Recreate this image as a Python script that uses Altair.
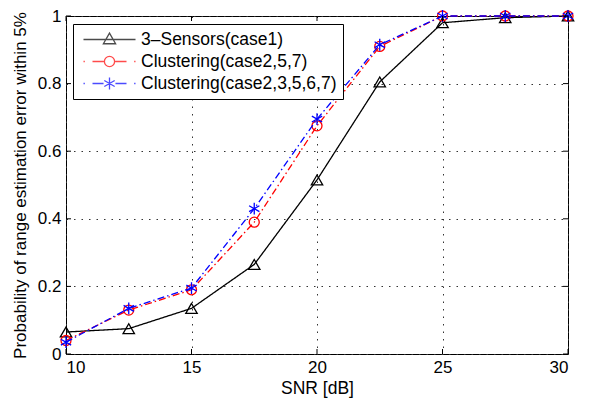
import altair as alt
import pandas as pd

# ---- data ----
snr = [10, 12.5, 15, 17.5, 20, 22.5, 25, 27.5, 30]
case1 = [0.065, 0.075, 0.135, 0.265, 0.515, 0.805, 0.98, 0.995, 1.0]
case257 = [0.04, 0.13, 0.19, 0.39, 0.675, 0.91, 1.0, 1.0, 1.0]
case23567 = [0.035, 0.135, 0.195, 0.43, 0.695, 0.915, 1.0, 1.0, 1.0]
series_names = ["3\u2013Sensors(case1)", "Clustering(case2,5,7)", "Clustering(case2,3,5,6,7)"]
x_ticks = [10, 15, 20, 25, 30]
y_ticks = [0, 0.2, 0.4, 0.6, 0.8, 1.0]

colors = ["#000000", "#ff0000", "#0000ff"]
dashes = [[1, 0], [7, 3, 1.5, 3], [7, 3, 1.5, 3]]

W, H = 502, 338
FONT = "Liberation Sans"
SW = 1.3

rows = []
for name, vals in zip(series_names, [case1, case257, case23567]):
    for s, v in zip(snr, vals):
        rows.append({"snr": s, "p": v, "series": name})
df = pd.DataFrame(rows)

xs = alt.Scale(domain=[10, 30], nice=False, zero=False)
ys = alt.Scale(domain=[0, 1], nice=False, zero=False)
cs = alt.Scale(domain=series_names, range=colors)

x_axis = alt.Axis(values=x_ticks, labelFontSize=17, titleFontSize=17.5,
                  labelPadding=5, titlePadding=4, ticks=False, domain=False,
                  grid=True, gridColor="#333333", gridDash=[1.5, 6],
                  gridWidth=1, labelFont=FONT, titleFont=FONT,
                  titleFontWeight="normal", labelColor="black", titleColor="black")
y_axis = alt.Axis(values=y_ticks, labelFontSize=17, titleFontSize=17,
                  labelPadding=5, titlePadding=8, ticks=False, domain=False,
                  grid=True, gridColor="#333333", gridDash=[1.5, 6],
                  gridWidth=1, labelFont=FONT, titleFont=FONT,
                  labelExpr="datum.value == 0 ? '0' : datum.value == 1 ? '1' : format(datum.value, '.1f')",
                  titleFontWeight="normal", labelColor="black", titleColor="black")
X_TITLE = "SNR [dB]"
Y_TITLE = "Probability of range estimation error within 5%"

# marker shapes
tri = "triangle-up"
circ = "circle"
star = "M0,-1L0,1M-0.87,-0.5L0.87,0.5M-0.87,0.5L0.87,-0.5"
marker_shapes = [tri, circ, star]
marker_sizes = [130, 100, 140]

# legend symbols: line + marker (units of 8.5 px)
leg_black = "M-3.06,0L3.06,0M0,-0.75L0.72,0.5L-0.72,0.5Z"
leg_red = ("M-3.06,0L-2.9,0M-2.0,0L-0.62,0M0.62,0L2.0,0M2.9,0L3.06,0"
           "M0.6,0A0.6,0.6 0 1,1 -0.6,0A0.6,0.6 0 1,1 0.6,0")
leg_blue = ("M-3.06,0L-2.9,0M-2.0,0L-0.7,0M0.7,0L2.0,0M2.9,0L3.06,0"
            "M0,-0.7L0,0.7M-0.61,-0.35L0.61,0.35M-0.61,0.35L0.61,-0.35")

base = alt.Chart(df)

layers = []
for i, name in enumerate(series_names):
    sub = base.transform_filter(alt.datum.series == name)
    line = sub.mark_line(strokeWidth=SW, strokeDash=dashes[i]).encode(
        x=alt.X("snr:Q", scale=xs, title=X_TITLE, axis=x_axis),
        y=alt.Y("p:Q", scale=ys, title=Y_TITLE, axis=y_axis),
        color=alt.Color("series:N", scale=cs, legend=None),
    )
    pts = sub.mark_point(filled=False, strokeWidth=SW, size=marker_sizes[i],
                         shape=marker_shapes[i], opacity=1).encode(
        x=alt.X("snr:Q", scale=xs, title=X_TITLE, axis=x_axis),
        y=alt.Y("p:Q", scale=ys, title=Y_TITLE, axis=y_axis),
        color=alt.Color("series:N", scale=cs, legend=None),
    )
    layers += [line, pts]

# legend-only layer (points placed out of the y-domain and clipped)
leg_df = pd.DataFrame({"series": series_names, "snr": [10, 10, 10], "p": [-1, -1, -1]})
legend_props = dict(
    title=None, orient="none", legendX=7, legendY=8,
    labelFontSize=17.5, labelFont=FONT, labelColor="black",
    labelOffset=22, symbolOffset=21, labelLimit=400,
    symbolSize=289, symbolStrokeWidth=SW,
    strokeColor="black", fillColor="white", padding=6, rowPadding=4,
)
legend_layer = alt.Chart(leg_df).mark_point(filled=False, clip=True, strokeWidth=SW, size=289).encode(
    x=alt.X("snr:Q", scale=xs, title=X_TITLE, axis=x_axis),
    y=alt.Y("p:Q", scale=ys, title=Y_TITLE, axis=y_axis),
    color=alt.Color("series:N", scale=cs, legend=alt.Legend(**legend_props)),
    shape=alt.Shape("series:N", scale=alt.Scale(domain=series_names,
                                                 range=[leg_black, leg_red, leg_blue]),
                    legend=alt.Legend(**legend_props)),
)

# inward tick marks (matlab style)
tx = pd.DataFrame({"snr": x_ticks})
ty = pd.DataFrame({"p": y_ticks})
tick_layers = [
    alt.Chart(tx).mark_rule(color="black", strokeWidth=1).encode(
        x=alt.X("snr:Q", scale=xs, title=X_TITLE, axis=x_axis), y=alt.value(H), y2=alt.value(H - 5)),
    alt.Chart(tx).mark_rule(color="black", strokeWidth=1).encode(
        x=alt.X("snr:Q", scale=xs, title=X_TITLE, axis=x_axis), y=alt.value(0), y2=alt.value(5)),
    alt.Chart(ty).mark_rule(color="black", strokeWidth=1).encode(
        y=alt.Y("p:Q", scale=ys, title=Y_TITLE, axis=y_axis), x=alt.value(0), x2=alt.value(5)),
    alt.Chart(ty).mark_rule(color="black", strokeWidth=1).encode(
        y=alt.Y("p:Q", scale=ys, title=Y_TITLE, axis=y_axis), x=alt.value(W), x2=alt.value(W - 5)),
]

chart = alt.layer(legend_layer, *layers, *tick_layers).properties(
    width=W, height=H,
    autosize=alt.AutoSizeParams(type="none"),
    padding={"left": 58, "top": 8, "right": 16, "bottom": 46},
    background="white",
).configure_view(stroke="black", strokeWidth=1).configure_legend(
    symbolFillColor="transparent"
)

chart.save("out.html", embed_options={"renderer": "svg", "actions": False})
